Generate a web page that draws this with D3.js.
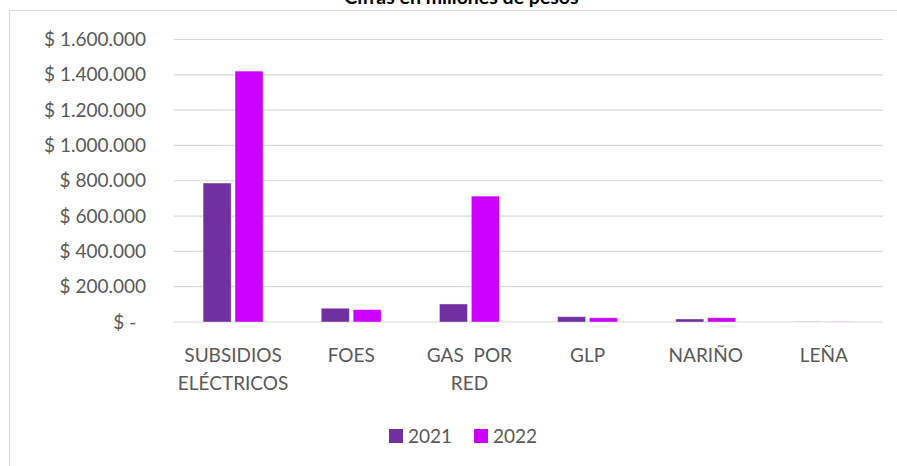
<!DOCTYPE html>
<html>
<head>
<meta charset="utf-8">
<script src="https://cdn.jsdelivr.net/npm/d3@7"></script>
<style>
  body { margin: 0; background: #fff; }
  svg { font-family: Lato, "Open Sans", sans-serif; }
</style>
</head>
<body>
<svg id="chart" width="897" height="466"></svg>
<script>
// cifras en millones de pesos
var categories = [["SUBSIDIOS", "ELÉCTRICOS"], ["FOES"], ["GAS  POR", "RED"], ["GLP"], ["NARIÑO"], ["LEÑA"]];
var years = ["2021", "2022"];
var values2021 = [787000, 78000, 102000, 30000, 17000, 1200];
var values2022 = [1421000, 70000, 713000, 24000, 24000, 1000];
var yTicks = [0, 200000, 400000, 600000, 800000, 1000000, 1200000, 1400000, 1600000];
var colors = ["#7030A0", "#CC00FF"];

var svg = d3.select("#chart");
var plotLeft = 174, plotRight = 883, plotTop = 39.5, plotBottom = 322;

// chart border (cropped)
svg.append("path").attr("d", "M9.5,466V10.5H897").attr("fill", "none").attr("stroke", "#d9d9d9");

svg.append("text").attr("x", 461.5).attr("y", 4).attr("text-anchor", "middle")
  .attr("font-size", 19.5).attr("font-weight", "bold").attr("fill", "#000")
  .text("Cifras en millones de pesos");

var x = d3.scaleBand().domain(d3.range(categories.length)).range([plotLeft, plotRight]);
var y = d3.scaleLinear().domain([0, 1600000]).range([plotBottom, plotTop]);
var x1 = d3.scaleBand().domain(years).range([0, 60]).paddingInner(0.12);

var fmt = function(v) {
  if (v === 0) return "$ -  ";
  return "$ " + d3.format(",")(v).replace(/,/g, ".");
};

svg.append("g").selectAll("line").data(yTicks).join("line")
  .attr("x1", plotLeft).attr("x2", plotRight)
  .attr("y1", d => y(d)).attr("y2", d => y(d))
  .attr("stroke", "#d9d9d9").attr("stroke-width", 1.2);

svg.append("g").selectAll("text").data(yTicks).join("text")
  .attr("x", 146).attr("y", d => y(d)).attr("dy", "0.35em")
  .attr("text-anchor", "end").attr("font-size", 19).attr("fill", "#595959")
  .style("white-space", "pre")
  .text(fmt);

var series = [values2021, values2022];
series.forEach(function(vals, si) {
  svg.append("g").selectAll("rect").data(vals).join("rect")
    .attr("x", (d, i) => x(i) + x.bandwidth() / 2 - 30 + x1(years[si]))
    .attr("width", x1.bandwidth())
    .attr("y", d => y(d))
    .attr("height", d => plotBottom - y(d))
    .attr("fill", colors[si])
    .attr("stroke", "#fff").attr("stroke-opacity", 0.5).attr("stroke-width", 0.8);
});

var xl = svg.append("g").selectAll("text").data(categories).join("text")
  .attr("text-anchor", "middle").attr("font-size", 19).attr("fill", "#595959")
  .style("white-space", "pre");
xl.each(function(lines, i) {
  var t = d3.select(this);
  lines.forEach(function(l, k) {
    t.append("tspan").attr("x", x(i) + x.bandwidth() / 2).attr("y", 362 + k * 28).text(l);
  });
});

// legend
var leg = svg.append("g").selectAll("g").data(years).join("g")
  .attr("transform", (d, i) => "translate(" + (389 + i * 85) + ",429)");
leg.append("rect").attr("width", 14).attr("height", 14).attr("fill", (d, i) => colors[i]);
leg.append("text").attr("x", 19).attr("y", 7).attr("dy", "0.35em")
  .attr("font-size", 19).attr("fill", "#595959").text(d => d);
</script>
</body>
</html>
